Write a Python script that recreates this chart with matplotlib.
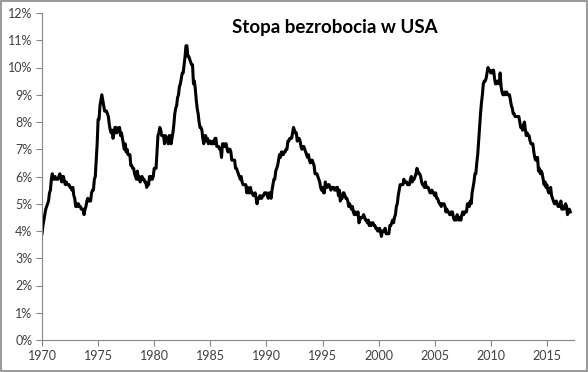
import numpy as np
import matplotlib
matplotlib.use("Agg")
import matplotlib.pyplot as plt
from matplotlib.patches import Rectangle

# Monthly US unemployment rate (%), Jan 1970 onward
rate_1970s = [
    3.9, 4.2, 4.4, 4.6, 4.8, 4.9, 5.0, 5.1, 5.4, 5.5, 5.9, 6.1,
    5.9, 5.9, 6.0, 5.9, 5.9, 5.9, 6.0, 6.1, 6.0, 5.8, 6.0, 6.0,
    5.8, 5.7, 5.8, 5.7, 5.7, 5.7, 5.6, 5.6, 5.5, 5.6, 5.3, 5.2,
    4.9, 5.0, 4.9, 5.0, 4.9, 4.9, 4.8, 4.8, 4.8, 4.6, 4.8, 4.9,
    5.1, 5.2, 5.1, 5.1, 5.1, 5.4, 5.5, 5.5, 5.9, 6.0, 6.6, 7.2,
    8.1, 8.1, 8.6, 8.8, 9.0, 8.8, 8.6, 8.4, 8.4, 8.4, 8.3, 8.2,
    7.9, 7.7, 7.6, 7.7, 7.4, 7.6, 7.8, 7.8, 7.6, 7.7, 7.8, 7.8,
    7.5, 7.6, 7.4, 7.2, 7.0, 7.2, 6.9, 7.0, 6.8, 6.8, 6.8, 6.4,
    6.4, 6.3, 6.3, 6.1, 6.0, 5.9, 6.2, 5.9, 6.0, 5.8, 5.9, 6.0,
    5.9, 5.9, 5.8, 5.8, 5.6, 5.7, 5.7, 6.0, 5.9, 6.0, 5.9, 6.0,
]
rate_1980s = [
    6.3, 6.3, 6.3, 6.9, 7.5, 7.6, 7.8, 7.7, 7.5, 7.5, 7.5, 7.2,
    7.5, 7.4, 7.4, 7.2, 7.5, 7.5, 7.2, 7.4, 7.6, 7.9, 8.3, 8.5,
    8.6, 8.9, 9.0, 9.3, 9.4, 9.6, 9.8, 9.8, 10.1, 10.4, 10.8, 10.8,
    10.4, 10.4, 10.3, 10.2, 10.1, 10.1, 9.4, 9.5, 9.2, 8.8, 8.5, 8.3,
    8.0, 7.8, 7.8, 7.7, 7.4, 7.2, 7.5, 7.5, 7.3, 7.4, 7.2, 7.3,
    7.3, 7.2, 7.2, 7.3, 7.2, 7.4, 7.4, 7.1, 7.1, 7.1, 7.0, 7.0,
    6.7, 7.2, 7.2, 7.1, 7.2, 7.2, 7.0, 6.9, 7.0, 7.0, 6.9, 6.6,
    6.6, 6.6, 6.6, 6.3, 6.3, 6.2, 6.1, 6.0, 5.9, 6.0, 5.8, 5.7,
    5.7, 5.7, 5.7, 5.4, 5.6, 5.4, 5.4, 5.6, 5.4, 5.4, 5.3, 5.3,
    5.4, 5.2, 5.0, 5.2, 5.2, 5.3, 5.2, 5.2, 5.3, 5.3, 5.4, 5.4,
]
rate_1990s = [
    5.4, 5.3, 5.2, 5.4, 5.4, 5.2, 5.5, 5.7, 5.9, 5.9, 6.2, 6.3,
    6.4, 6.6, 6.8, 6.7, 6.9, 6.9, 6.8, 6.9, 6.9, 7.0, 7.0, 7.3,
    7.3, 7.4, 7.4, 7.4, 7.6, 7.8, 7.7, 7.6, 7.6, 7.3, 7.4, 7.4,
    7.3, 7.1, 7.0, 7.1, 7.1, 7.0, 6.9, 6.8, 6.7, 6.8, 6.6, 6.5,
    6.6, 6.6, 6.5, 6.4, 6.1, 6.1, 6.1, 6.0, 5.9, 5.8, 5.6, 5.5,
    5.6, 5.4, 5.4, 5.8, 5.6, 5.6, 5.7, 5.7, 5.6, 5.5, 5.6, 5.6,
    5.6, 5.5, 5.5, 5.6, 5.6, 5.3, 5.5, 5.1, 5.2, 5.2, 5.4, 5.4,
    5.3, 5.2, 5.2, 5.1, 4.9, 5.0, 4.9, 4.8, 4.9, 4.7, 4.6, 4.7,
    4.6, 4.6, 4.7, 4.3, 4.4, 4.5, 4.5, 4.5, 4.6, 4.5, 4.4, 4.4,
    4.3, 4.4, 4.2, 4.3, 4.2, 4.3, 4.3, 4.2, 4.2, 4.1, 4.1, 4.0,
]
rate_2000s = [
    4.0, 4.1, 4.0, 3.8, 4.0, 4.0, 4.0, 4.1, 3.9, 3.9, 3.9, 3.9,
    4.2, 4.2, 4.3, 4.4, 4.3, 4.5, 4.6, 4.9, 5.0, 5.3, 5.5, 5.7,
    5.7, 5.7, 5.7, 5.9, 5.8, 5.8, 5.8, 5.7, 5.7, 5.7, 5.9, 6.0,
    5.8, 5.9, 5.9, 6.0, 6.1, 6.3, 6.2, 6.1, 6.1, 6.0, 5.8, 5.7,
    5.7, 5.6, 5.8, 5.6, 5.6, 5.6, 5.5, 5.4, 5.4, 5.5, 5.4, 5.4,
    5.3, 5.4, 5.2, 5.2, 5.1, 5.0, 5.0, 4.9, 5.0, 5.0, 5.0, 4.9,
    4.7, 4.8, 4.7, 4.7, 4.6, 4.6, 4.7, 4.7, 4.5, 4.4, 4.5, 4.4,
    4.6, 4.5, 4.4, 4.5, 4.4, 4.6, 4.7, 4.6, 4.7, 4.7, 4.7, 5.0,
    5.0, 4.9, 5.1, 5.0, 5.4, 5.6, 5.8, 6.1, 6.1, 6.5, 6.8, 7.3,
    7.8, 8.3, 8.7, 9.0, 9.4, 9.5, 9.5, 9.6, 9.8, 10.0, 9.9, 9.9,
]
rate_2010s = [
    9.8, 9.8, 9.9, 9.9, 9.6, 9.4, 9.4, 9.5, 9.5, 9.4, 9.8, 9.3,
    9.1, 9.0, 9.0, 9.1, 9.0, 9.1, 9.0, 9.0, 9.0, 8.8, 8.6, 8.5,
    8.3, 8.3, 8.2, 8.2, 8.2, 8.2, 8.2, 8.0, 7.8, 7.8, 7.7, 7.9,
    8.0, 7.7, 7.5, 7.6, 7.5, 7.5, 7.3, 7.2, 7.2, 7.2, 6.9, 6.7,
    6.6, 6.7, 6.7, 6.2, 6.3, 6.1, 6.2, 6.1, 5.9, 5.7, 5.8, 5.6,
    5.7, 5.5, 5.4, 5.4, 5.6, 5.3, 5.2, 5.1, 5.0, 5.0, 5.1, 5.0,
    4.9, 4.9, 5.0, 5.1, 4.8, 4.9, 4.8, 4.9, 5.0, 4.9, 4.6, 4.7,
    4.8, 4.7,
]

title = "Stopa bezrobocia w USA"
x_ticks = [1970, 1975, 1980, 1985, 1990, 1995, 2000, 2005, 2010, 2015]
y_ticks = list(range(0, 13))

rates = np.array(rate_1970s + rate_1980s + rate_1990s + rate_2000s + rate_2010s)
years = 1970 + np.arange(len(rates)) / 12.0

W, H = 588, 372
fig = plt.figure(figsize=(W / 100, H / 100), dpi=100)
fig.patch.set_facecolor("white")

ax = fig.add_axes([42 / W, 1 - 340 / H, (574 - 42) / W, (340 - 13) / H])
ax.plot(years, rates, color="black", linewidth=2.2, solid_joinstyle="round")

ax.set_xlim(1970, 1970 + (574 - 42) / 11.22)
ax.set_ylim(0, 12)
ax.set_xticks(x_ticks)
ax.set_xticklabels([str(t) for t in x_ticks])
ax.set_yticks(y_ticks)
ax.set_yticklabels([f"{t}%" for t in y_ticks])

font = "Lato"
grey = "#868686"
for s in ["top", "right"]:
    ax.spines[s].set_visible(False)
for s in ["left", "bottom"]:
    ax.spines[s].set_color(grey)
    ax.spines[s].set_linewidth(0.8)
ax.tick_params(axis="both", direction="out", length=4, width=0.8, color=grey,
               labelsize=9, labelcolor="#404040", pad=3)
for lab in ax.get_xticklabels() + ax.get_yticklabels():
    lab.set_fontfamily(font)

fig.text(335 / W, 1 - 28 / H, title, ha="center", va="center",
         fontsize=13.5, fontweight="bold", family=font, color="black")

fig.patches.append(Rectangle((0.001, 0.002), 0.997, 0.995, transform=fig.transFigure,
                             fill=False, edgecolor="#888888", linewidth=1.2))

fig.savefig("out.png", dpi=100, facecolor="white")
